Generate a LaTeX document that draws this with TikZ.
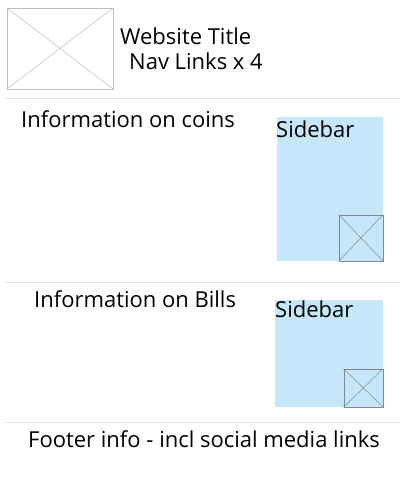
\documentclass[tikz,border=0pt]{standalone}
\usepackage{fontspec}
\setmainfont{Open Sans}
\usetikzlibrary{positioning}

\definecolor{sidebarblue}{HTML}{C6E7F9}
\definecolor{rulegray}{HTML}{E2E2E2}
\definecolor{framegray}{HTML}{BDBDBD}
\definecolor{iconline}{HTML}{7D8A96}

\tikzset{
    placeholder/.style = {draw=#1, line width=0.6pt, inner sep=0pt},
    sidebarbox/.style = {fill=sidebarblue, inner sep=0pt},
    label text/.style = {anchor=base west, inner sep=0pt, font=\fontsize{22}{24}\selectfont},
    section rule/.style = {draw=rulegray, line width=0.8pt}
}

\begin{document}
\begin{tikzpicture}[x=1pt, y=-1pt]
    \useasboundingbox (0,0) rectangle (400,500);

    % header
    \node[placeholder=framegray, minimum width=106pt, minimum height=81pt] (logo) at (60,48.5) {};
    \draw[framegray, line width=0.5pt] (logo.north west) -- (logo.south east);
    \draw[framegray, line width=0.5pt] (logo.south west) -- (logo.north east);
    \node[label text] (title) at (120,45) {Website Title};
    \node[label text] (nav) at (129,70) {Nav Links x 4};

    \coordinate (r1a) at (5,98);
    \coordinate (r1b) at (400,98);
    \draw[section rule] (r1a) -- (r1b);

    % coins section
    \node[label text] (coins) at (21,128) {Information on coins};
    \node[sidebarbox, minimum width=106pt, minimum height=144pt] (side1) at (330,189) {};
    \node[label text] (side1text) at (276,137) {Sidebar};
    \node[placeholder=iconline, minimum width=44pt, minimum height=46pt, anchor=south east] (img1) at (side1.south east) {};
    \draw[iconline, line width=0.5pt] (img1.north west) -- (img1.south east);
    \draw[iconline, line width=0.5pt] (img1.south west) -- (img1.north east);

    \coordinate (r2a) at (5,282);
    \coordinate (r2b) at (400,282);
    \draw[section rule] (r2a) -- (r2b);

    % bills section
    \node[label text] (bills) at (34,307) {Information on Bills};
    \node[sidebarbox, minimum width=108pt, minimum height=107pt] (side2) at (329,353.5) {};
    \node[label text] (side2text) at (275,317) {Sidebar};
    \node[placeholder=iconline, minimum width=39pt, minimum height=38pt, anchor=south east] (img2) at (side2.south east) {};
    \draw[iconline, line width=0.5pt] (img2.north west) -- (img2.south east);
    \draw[iconline, line width=0.5pt] (img2.south west) -- (img2.north east);

    \coordinate (r3a) at (5,422);
    \coordinate (r3b) at (400,422);
    \draw[section rule] (r3a) -- (r3b);

    % footer
    \node[label text] (footer) at (28,447) {Footer info - incl social media links};
\end{tikzpicture}
\end{document}
